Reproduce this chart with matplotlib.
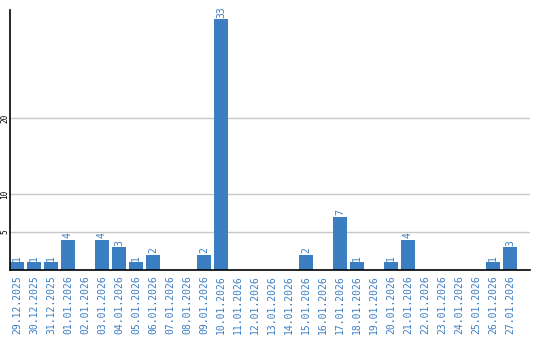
import matplotlib
matplotlib.use("Agg")
import matplotlib.pyplot as plt

dates = ["29.12.2025", "30.12.2025", "31.12.2025", "01.01.2026", "02.01.2026",
         "03.01.2026", "04.01.2026", "05.01.2026", "06.01.2026", "07.01.2026",
         "08.01.2026", "09.01.2026", "10.01.2026", "11.01.2026", "12.01.2026",
         "13.01.2026", "14.01.2026", "15.01.2026", "16.01.2026", "17.01.2026",
         "18.01.2026", "19.01.2026", "20.01.2026", "21.01.2026", "22.01.2026",
         "23.01.2026", "24.01.2026", "25.01.2026", "26.01.2026", "27.01.2026"]
counts = [1, 1, 1, 4, 0, 4, 3, 1, 2, 0, 0, 2, 33, 0, 0, 0, 0, 2, 0, 7,
          1, 0, 1, 4, 0, 0, 0, 0, 1, 3]
yticks = [5, 10, 20]

blue = "#3b7ec2"
fig = plt.figure(figsize=(5.4, 3.4), dpi=100)
ax = fig.add_axes([10 / 540, 70 / 340, 520 / 540, 260 / 340])

x = list(range(len(dates)))
ax.bar(x, counts, width=0.82, color=blue, zorder=2)
for i, v in enumerate(counts):
    if v > 0:
        ax.text(i, v + 0.2, str(v), rotation=90, ha="center", va="bottom",
                color=blue, fontsize=7, family="DejaVu Sans Mono")

ax.set_xlim(-0.41, 30.18)
ax.set_ylim(0, 34.2)
ax.set_yticks(yticks)
ax.set_yticklabels([str(t) for t in yticks], rotation=90, va="center",
                   fontsize=5.5, family="DejaVu Sans Mono")
ax.set_xticks(x)
ax.set_xticklabels(dates, rotation=90, color=blue, fontsize=7,
                   family="DejaVu Sans Mono")
ax.tick_params(axis="x", length=0, pad=4)
ax.tick_params(axis="y", length=0, pad=0.5)
ax.grid(axis="y", color="#c8c8c8", linewidth=1, zorder=0)
for s in ["top", "right"]:
    ax.spines[s].set_visible(False)
ax.spines["left"].set_linewidth(1.2)
ax.spines["bottom"].set_linewidth(1.2)

fig.savefig("out.png", dpi=100)
